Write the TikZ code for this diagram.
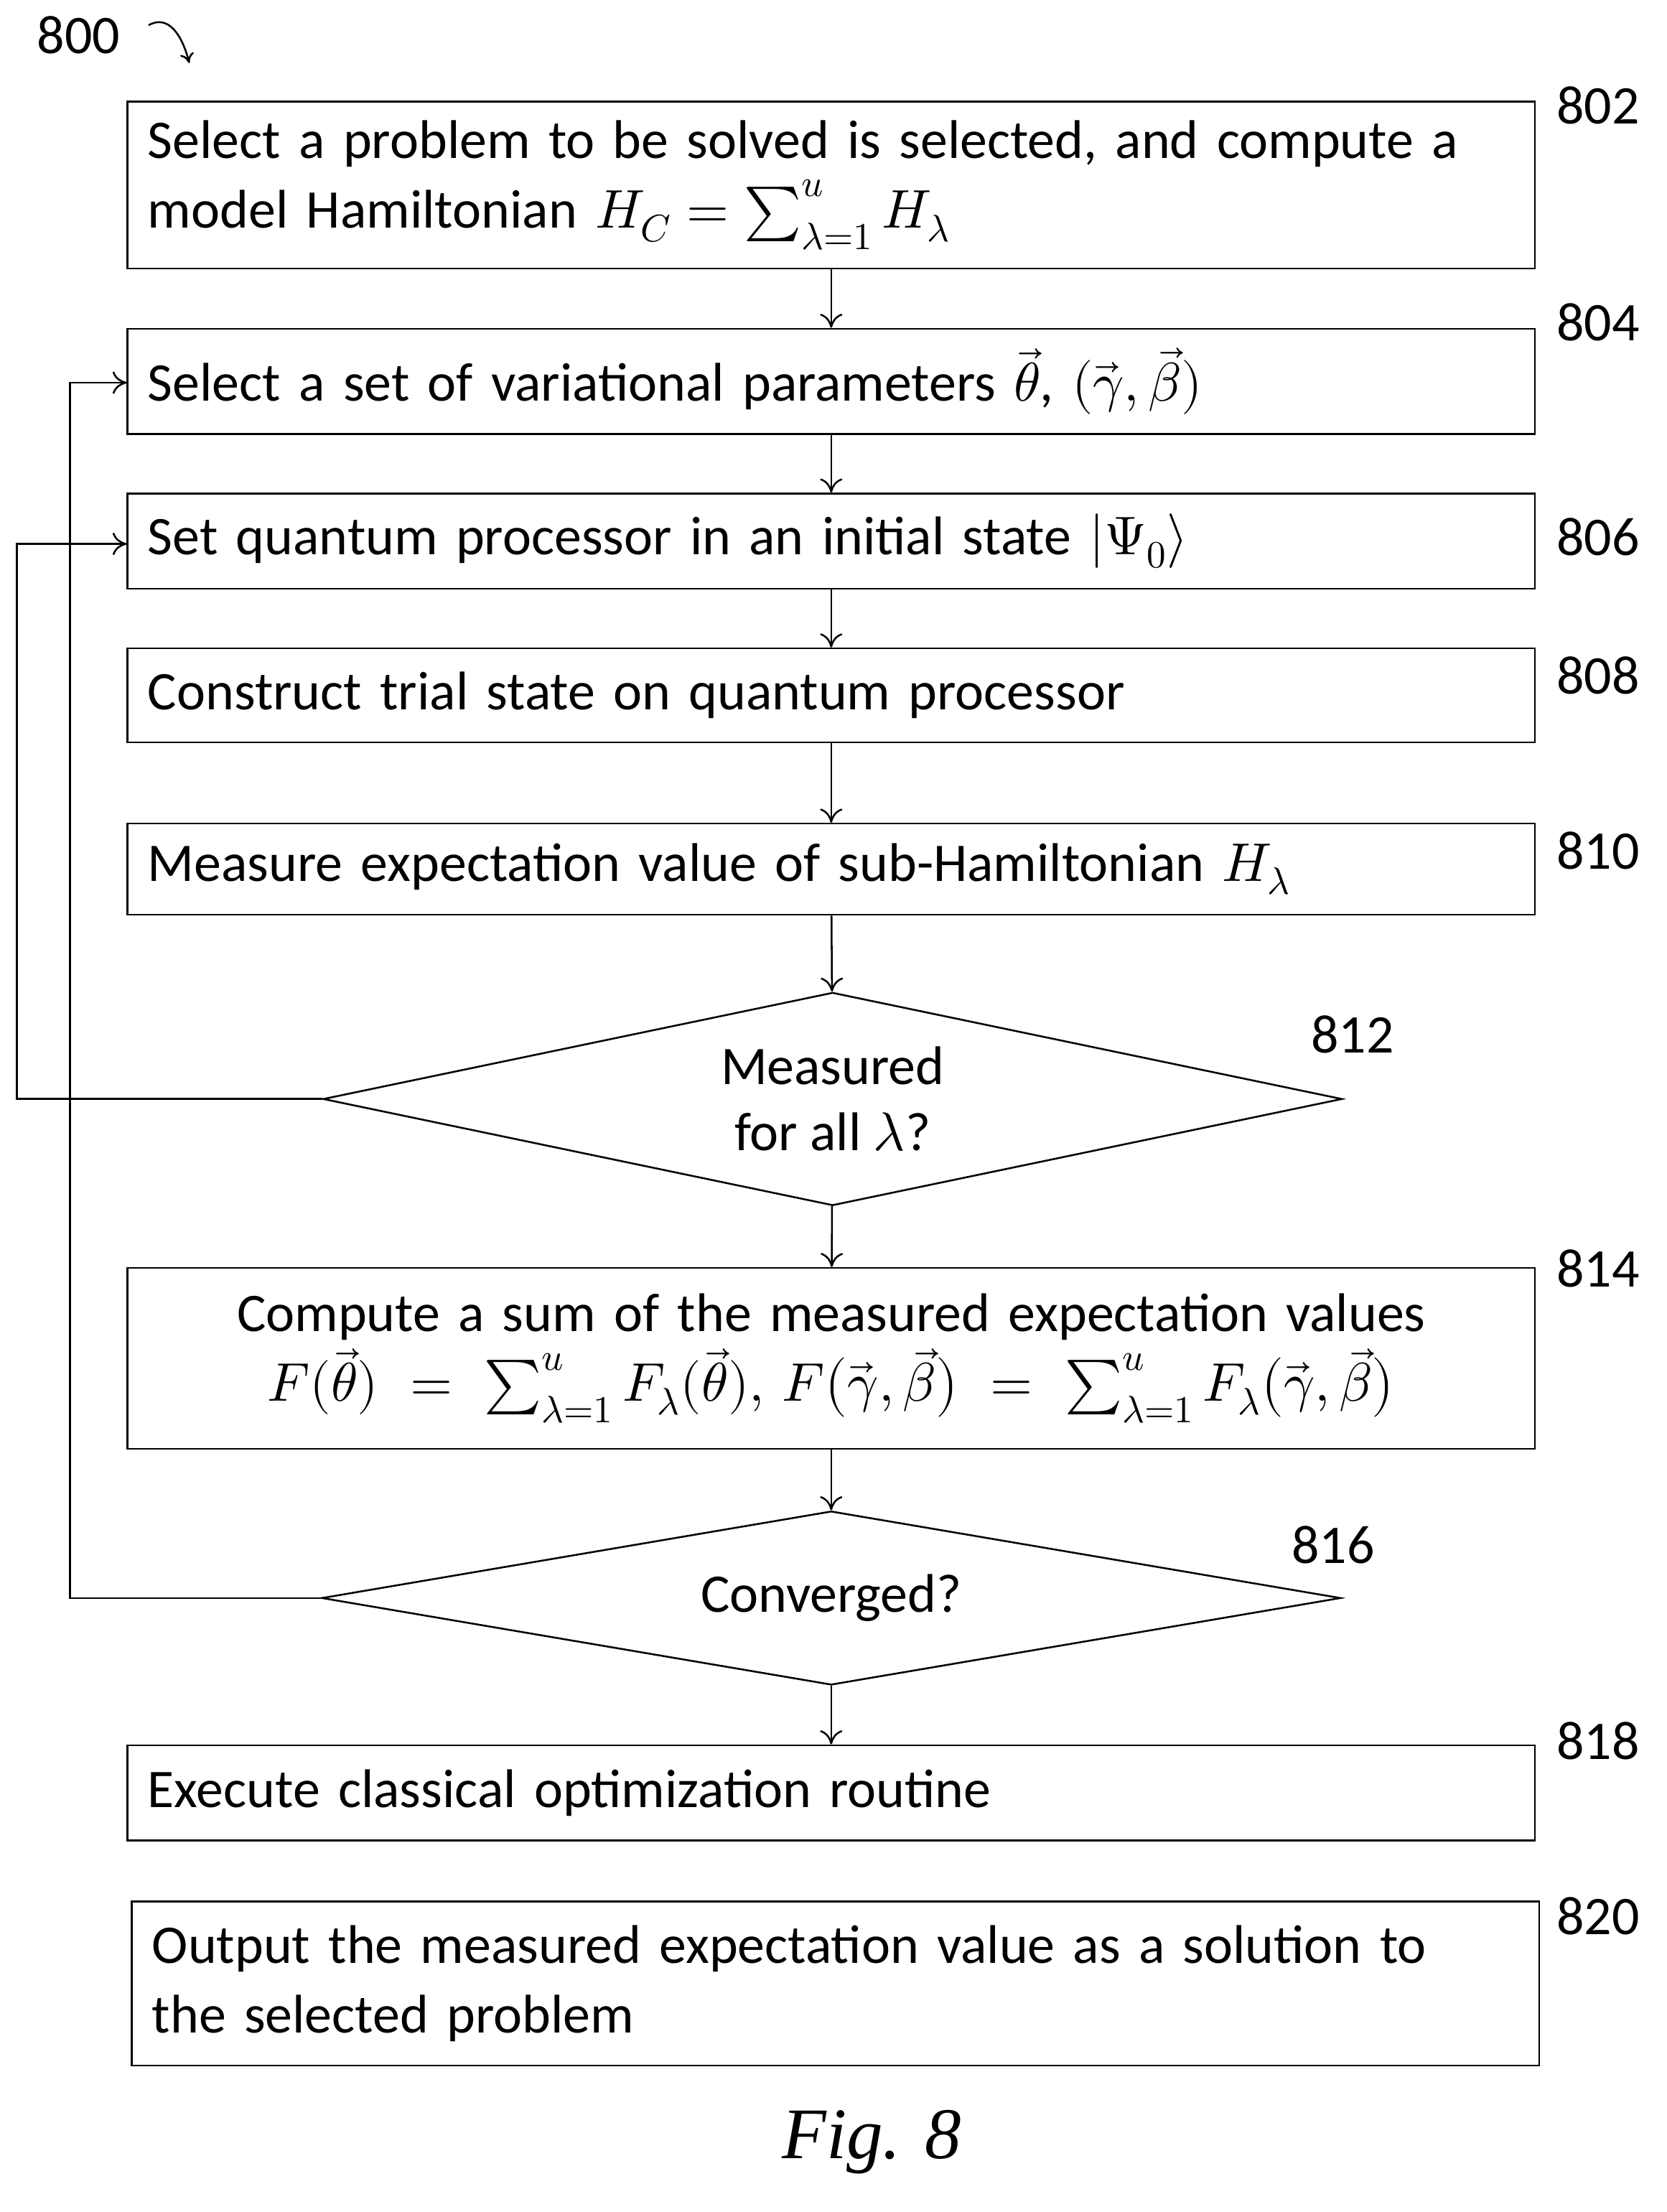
\documentclass[tikz,border=0pt]{standalone}
\usepackage{unicode-math}
\setmainfont{Carlito}
\setmathfont{Latin Modern Math}
\newfontfamily\figfont{Liberation Serif}
\usetikzlibrary{shapes.geometric,arrows.meta}
\begin{document}
\begin{tikzpicture}[x=1bp,y=-1bp,
  box/.style={draw,line width=1.3bp,minimum width=1004bp,inner sep=0pt,text width=975bp,align=left,font=\fontsize{39}{50}\selectfont},
  dia/.style={draw,line width=1.3bp,diamond,aspect=4.78,minimum width=727bp,minimum height=152bp,inner sep=0pt,align=center,font=\fontsize{39}{47}\selectfont},
  lab/.style={font=\fontsize{39}{40}\selectfont},
  arr/.style={line width=1.3bp,-{To[length=10bp,width=16bp]}}]
\useasboundingbox (0,0) rectangle (1189,1578);
\node[box,minimum height=119bp] (b802) at (593,132) {Select a problem to be solved is selected, and compute a\\model Hamiltonian $H_C=\sum_{\lambda=1}^{u}H_\lambda$};
\node[box,minimum height=75bp] (b804) at (593,272) {Select a set of variational parameters $\vec{\theta}$, $(\vec{\gamma},\vec{\beta})$};
\node[box,minimum height=68bp] (b806) at (593,386) {Set quantum processor in an initial state $|\Psi_0\rangle$};
\node[box,minimum height=67bp] (b808) at (593,496) {Construct trial state on quantum processor};
\node[box,minimum height=65bp] (b810) at (593,620) {Measure expectation value of sub-Hamiltonian $H_\lambda$};
\node[dia] (d812) at (594,784) {Measured\\for all $\lambda$?};
\node[box,minimum height=129bp,align=center] (b814) at (593,969) {Compute a sum of the measured expectation values\\$F(\vec{\theta})=\sum_{\lambda=1}^{u}F_\lambda(\vec{\theta}),\,F\bigl(\vec{\gamma},\vec{\beta}\bigr)=\sum_{\lambda=1}^{u}F_\lambda\bigl(\vec{\gamma},\vec{\beta}\bigr)$};
\node[dia,minimum height=124bp,aspect=5.85] (d816) at (593,1140) {Converged?};
\node[box,minimum height=68bp] (b818) at (593,1279) {Execute classical optimization routine};
\node[box,minimum height=117bp] (b820) at (596,1415) {Output the measured expectation value as a solution to\\the selected problem};
\node[lab] (l802) at (1140,75) {802};
\node[lab] (l804) at (1140,230) {804};
\node[lab] (l806) at (1140,383) {806};
\node[lab] (l808) at (1140,482) {808};
\node[lab] (l810) at (1140,607) {810};
\node[lab] (l812) at (965,738) {812};
\node[lab] (l814) at (1140,905) {814};
\node[lab] (l816) at (951,1102) {816};
\node[lab] (l818) at (1140,1242) {818};
\node[lab] (l820) at (1140,1367) {820};
\node[lab] (l800) at (56,25) {800};
\node[font=\fontsize{52}{56}\selectfont\figfont\itshape] (fig) at (622,1528) {Fig. 8};
\draw[line width=1.3bp,-{To[length=7bp,width=10bp]}] (106,18) .. controls (120,10) and (130,25) .. (135,45);
\draw[arr] (b802) -- (b804);
\draw[arr] (b804) -- (b806);
\draw[arr] (b806) -- (b808);
\draw[arr] (b808) -- (b810);
\draw[arr] (b810) -- (d812);
\draw[arr] (d812) -- (b814);
\draw[arr] (b814) -- (d816);
\draw[arr] (d816) -- (b818);
\draw[arr] (d812.west) -- (12,784) -- (12,388) -- (b806.west |- 0,388);
\draw[arr] (d816.west) -- (50,1140) -- (50,273) -- (b804.west |- 0,273);
\end{tikzpicture}
\end{document}
